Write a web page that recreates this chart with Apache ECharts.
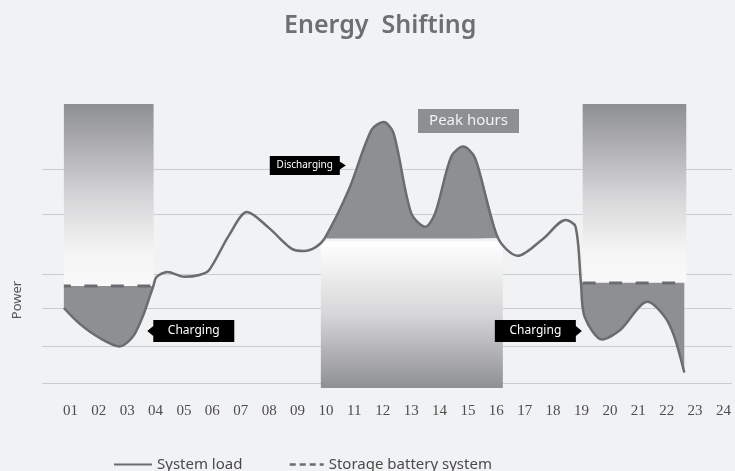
<!DOCTYPE html>
<html>
<head>
<meta charset="utf-8">
<script src="https://cdn.jsdelivr.net/npm/echarts@6/dist/echarts.min.js"></script>
<style>
  html, body { margin: 0; padding: 0; background: #f1f2f4; }
  #chart { width: 735px; height: 471px; }
</style>
</head>
<body>
<div id="chart"></div>
<script>
// hour of day and system load (relative power units)
const loadHours = [0.77, 1.33, 2.03, 2.73, 3.19, 3.54, 3.79, 3.92, 4.03, 4.42, 5.01, 5.54, 5.89,
  6.59, 7.22, 7.99, 8.8, 9.22, 9.64, 9.96, 10.8, 11.6, 12.03, 12.38, 13.0, 13.5, 13.85, 14.41,
  14.83, 15.25, 16.06, 16.76, 17.64, 18.44, 18.79, 18.98, 19.11, 19.73, 20.37, 21.32, 21.93,
  22.27, 22.62];
const loadPower = [25, 19.7, 15, 12.2, 15.3, 22, 28.7, 32.3, 35.3, 37, 35.4, 36, 37.7,
  49.3, 57, 51.7, 44.7, 44, 45.3, 48.3, 64.3, 84.3, 87, 83.3, 56.7, 52.1, 56.7, 75.4,
  78.8, 75, 48.3, 42.4, 48, 54.3, 52.1, 33.4, 22.1, 14.5, 17.7, 27.1, 22.1,
  15.4, 3.5];

// battery windows: [start hour, end hour, battery level]
const chargeWindows = [[0.77, 3.93, 32.3], [19.04, 22.69, 33.3]];
const peakWindow = [9.82, 16.23, 47.2];
const windowTop = 93;
const peakFillLevel = 48.2;
// index ranges of the load curve that are charged / discharged
const chargeRanges = [[0, 7], [35, 42]];
const dischargeRange = [19, 30];

const gridLevels = [71.3, 56.3, 36.3, 25, 12.3, 0];
const hourLabels = ['01','02','03','04','05','06','07','08','09','10','11','12',
  '13','14','15','16','17','18','19','20','21','22','23','24'];

const loadData = loadHours.map((h, i) => [h, loadPower[i]]);

const chart = echarts.init(document.getElementById('chart'));

const fillColor = '#8e8f93';
const lineColor = '#6b6c70';

const topGradient = () => new echarts.graphic.LinearGradient(0, 0, 0, 1, [
  { offset: 0, color: '#8e8f93' },
  { offset: 0.5, color: '#d4d4d6' },
  { offset: 0.82, color: '#f5f5f5' },
  { offset: 1, color: '#f9f9f9' }
]);
const bottomGradient = new echarts.graphic.LinearGradient(0, 0, 0, 1, [
  { offset: 0, color: '#ffffff' },
  { offset: 0.12, color: '#f6f6f6' },
  { offset: 0.5, color: '#d6d6d8' },
  { offset: 1, color: '#8e8f93' }
]);

const fillSeries = (range, level) => ({
  type: 'line',
  z: 3,
  silent: true,
  smooth: 0.3,
  symbol: 'none',
  data: loadData.slice(range[0], range[1] + 1),
  lineStyle: { width: 0, opacity: 0 },
  areaStyle: { color: fillColor, opacity: 1, origin: level }
});

const option = {
  backgroundColor: '#f1f2f4',
  animation: false,
  title: {
    text: 'Energy  Shifting',
    left: 279,
    top: 8,
    textStyle: { fontFamily: 'Noto Sans', fontSize: 25, fontWeight: 600, color: '#6e6f73' }
  },
  legend: {
    left: 108,
    top: 452,
    itemWidth: 38,
    itemHeight: 14,
    itemGap: 42,
    itemStyle: { opacity: 0 },
    textStyle: { fontFamily: 'Noto Sans', fontSize: 15, color: '#4a4a4a' },
    data: [
      { name: 'System load' },
      { name: 'Storage battery system', lineStyle: { type: [6, 4], width: 2.5 } }
    ]
  },
  grid: { left: 42, right: 0, top: 83, bottom: 82 },
  xAxis: {
    type: 'value',
    min: 0,
    max: 24.3,
    interval: 1,
    axisLine: { show: false },
    axisTick: { show: false },
    splitLine: { show: false },
    axisLabel: {
      margin: 15,
      fontFamily: 'Liberation Serif',
      fontSize: 15,
      color: '#4d4d4d',
      formatter: v => (Number.isInteger(v) && v > 0 ? hourLabels[v - 1] : '')
    }
  },
  yAxis: { type: 'value', min: -2, max: 100, show: false },
  graphic: [{
    type: 'text',
    x: 17,
    y: 300,
    rotation: Math.PI / 2,
    style: {
      text: 'Power',
      fontFamily: 'Noto Sans',
      fontSize: 13,
      fill: '#555',
      textAlign: 'center',
      textVerticalAlign: 'middle'
    }
  }],
  series: [
    {
      // horizontal grid lines
      type: 'line',
      z: 1,
      silent: true,
      data: [],
      markLine: {
        z: 1,
        silent: true,
        symbol: 'none',
        label: { show: false },
        lineStyle: { color: '#c7cece', width: 1, type: 'solid' },
        data: gridLevels.map(v => ({ yAxis: v }))
      }
    },
    {
      // charging / peak windows
      type: 'line',
      z: 2,
      silent: true,
      data: [],
      markArea: {
        z: 2,
        silent: true,
        data: chargeWindows.map(w => [
          { xAxis: w[0], yAxis: windowTop, itemStyle: { color: topGradient(), opacity: 1 } },
          { xAxis: w[1], yAxis: w[2] }
        ]).concat([[
          { xAxis: peakWindow[0], yAxis: peakWindow[2], itemStyle: { color: bottomGradient, opacity: 1 } },
          { xAxis: peakWindow[1], yAxis: -1.7 }
        ]])
      }
    },
    fillSeries(chargeRanges[0], chargeWindows[0][2]),
    fillSeries(chargeRanges[1], chargeWindows[1][2] + 0.1),
    fillSeries(dischargeRange, peakFillLevel),
    {
      name: 'System load',
      type: 'line',
      z: 5,
      smooth: 0.3,
      symbol: 'none',
      data: loadData,
      lineStyle: { color: lineColor, width: 2.5 },
      itemStyle: { color: lineColor }
    },
    {
      name: 'Storage battery system',
      type: 'line',
      z: 6,
      symbol: 'none',
      data: [[chargeWindows[0][0], chargeWindows[0][2]], [chargeWindows[0][1], chargeWindows[0][2]]],
      lineStyle: { color: lineColor, width: 3, type: [13, 13.5], dashOffset: 6 },
      itemStyle: { color: lineColor }
    },
    {
      name: 'Storage battery system',
      type: 'line',
      z: 6,
      symbol: 'none',
      data: [[chargeWindows[1][0], chargeWindows[1][2]], [chargeWindows[1][1], chargeWindows[1][2]]],
      lineStyle: { color: lineColor, width: 3, type: [13, 13.5], dashOffset: 0 },
      itemStyle: { color: lineColor }
    },
    {
      // annotation tags
      type: 'line',
      z: 7,
      silent: true,
      data: [],
      markPoint: {
        z: 7,
        silent: true,
        data: [
          {
            coord: [5.24, 17.33],
            symbol: 'path://M0,11 L6,6 L6,0 L87,0 L87,22 L6,22 L6,16 Z',
            symbolSize: [87, 22],
            itemStyle: { color: '#000' },
            label: { show: true, formatter: 'Charging', color: '#fff', fontFamily: 'Noto Sans', fontSize: 12, offset: [3, 0] }
          },
          {
            coord: [17.48, 17.33],
            symbol: 'path://M0,0 L81,0 L81,6 L87,11 L81,16 L81,22 L0,22 Z',
            symbolSize: [87, 22],
            itemStyle: { color: '#000' },
            label: { show: true, formatter: 'Charging', color: '#fff', fontFamily: 'Noto Sans', fontSize: 12, offset: [-3, 0] }
          },
          {
            coord: [9.36, 72.5],
            symbol: 'path://M0,0 L70,0 L70,5.5 L76,9.5 L70,13.5 L70,19 L0,19 Z',
            symbolSize: [76, 19],
            itemStyle: { color: '#000' },
            label: { show: true, formatter: 'Discharging', color: '#fff', fontFamily: 'Noto Sans', fontSize: 10, offset: [-3, 0] }
          },
          {
            coord: [15.02, 87.3],
            symbol: 'rect',
            symbolSize: [101, 24],
            itemStyle: { color: '#8e8f93' },
            label: { show: true, formatter: 'Peak hours', color: '#f2f2f2', fontFamily: 'Noto Sans', fontSize: 15 }
          }
        ]
      }
    }
  ]
};

chart.setOption(option);
</script>
</body>
</html>
